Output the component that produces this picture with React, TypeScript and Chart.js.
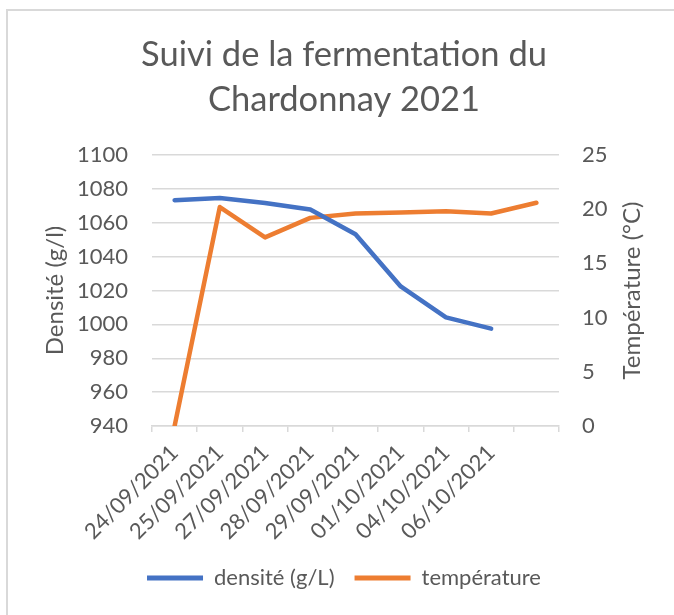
import React, { useEffect, useRef } from "react";
import { Chart, registerables } from "chart.js";

Chart.register(...registerables);

const titleLines = ["Suivi de la fermentation du", "Chardonnay 2021"];
const categories = [
  "24/09/2021",
  "25/09/2021",
  "27/09/2021",
  "28/09/2021",
  "29/09/2021",
  "01/10/2021",
  "04/10/2021",
  "06/10/2021",
  "",
];
const densite = [1073.3, 1074.6, 1071.7, 1067.8, 1053.2, 1022.4, 1004.1, 997.5, null];
const temperature = [0, 20.2, 17.4, 19.2, 19.6, 19.7, 19.8, 19.6, 20.6];
const densiteLabel = "densité (g/L)";
const temperatureLabel = "température";
const leftAxisTitle = "Densité (g/l)";
const rightAxisTitle = "Température (°C)";

const FONT = "Lato";
const TEXT = "#595959";
const GRID = "#d9d9d9";
const BLUE = "#4472C4";
const ORANGE = "#ED7D31";

const LAYOUT_LEFT = 14;
const PLOT_LEFT = 152;
const PLOT_RIGHT = 559;
const PLOT_BOTTOM = 426;
const LAYOUT_BOTTOM = 16;

const decorPlugin = {
  id: "decor",
  beforeDraw(chart: any) {
    const ctx = chart.ctx;
    ctx.save();
    ctx.fillStyle = "#ffffff";
    ctx.fillRect(0, 0, chart.width, chart.height);
    ctx.strokeStyle = GRID;
    ctx.lineWidth = 2;
    ctx.strokeRect(7, 10, chart.width + 20, chart.height + 20);
    ctx.restore();
  },
  afterDraw(chart: any) {
    const ctx = chart.ctx;
    const area = chart.chartArea;
    ctx.save();
    ctx.fillStyle = TEXT;
    ctx.font = `24px ${FONT}`;
    ctx.textAlign = "center";
    ctx.textBaseline = "middle";
    ctx.translate(632, (area.top + area.bottom) / 2);
    ctx.rotate(-Math.PI / 2);
    ctx.fillText(rightAxisTitle, 0, 0);
    ctx.restore();
  },
};

export default function App() {
  const ref = useRef<HTMLCanvasElement | null>(null);

  useEffect(() => {
    if (!ref.current) return;
    const chart = new Chart(ref.current, {
      type: "line",
      data: {
        labels: categories,
        datasets: [
          {
            label: densiteLabel,
            data: densite,
            borderColor: BLUE,
            backgroundColor: BLUE,
            borderWidth: 4.5,
            pointRadius: 0,
            borderCapStyle: "round",
            borderJoinStyle: "round",
            yAxisID: "y",
            spanGaps: false,
          },
          {
            label: temperatureLabel,
            data: temperature,
            borderColor: ORANGE,
            backgroundColor: ORANGE,
            borderWidth: 4.5,
            pointRadius: 0,
            borderCapStyle: "round",
            borderJoinStyle: "round",
            yAxisID: "y1",
          },
        ],
      },
      options: {
        responsive: false,
        animation: false,
        layout: { padding: { left: LAYOUT_LEFT, right: 0, top: 0, bottom: LAYOUT_BOTTOM } },
        plugins: {
          title: {
            display: true,
            text: titleLines,
            color: TEXT,
            font: { family: FONT, size: 34.5, weight: "normal", lineHeight: 1.3 },
            padding: { top: 32.5, bottom: 32.8 },
          },
          legend: {
            display: true,
            position: "bottom",
            labels: {
              color: TEXT,
              font: { family: FONT, size: 22 },
              boxWidth: 56,
              boxHeight: 5,
              padding: 20,
              generateLabels(chart: any) {
                return chart.data.datasets.map((ds: any, i: number) => ({
                  text: ds.label,
                  fillStyle: ds.borderColor,
                  strokeStyle: ds.borderColor,
                  lineWidth: 0,
                  fontColor: TEXT,
                  hidden: false,
                  datasetIndex: i,
                }));
              },
            },
          },
          tooltip: { enabled: false },
        },
        scales: {
          x: {
            type: "category",
            offset: true,
            grid: {
              offset: true,
              drawOnChartArea: false,
              drawTicks: true,
              tickLength: 6,
              color: GRID,
              lineWidth: 1.5,
            },
            border: { display: true, color: GRID, width: 1.5 },
            ticks: {
              color: TEXT,
              font: { family: FONT, size: 22 },
              minRotation: 45,
              maxRotation: 45,
              autoSkip: false,
              padding: 8,
            },
            afterFit(s: any) {
              s.height = s.chart.height - LAYOUT_BOTTOM - PLOT_BOTTOM - s.chart.legend.height;
            },
          },
          y: {
            position: "left",
            min: 940,
            max: 1100,
            ticks: {
              stepSize: 20,
              color: TEXT,
              font: { family: FONT, size: 22 },
              padding: 24,
              callback: (v: any) => String(v),
            },
            grid: { color: GRID, lineWidth: 1.5, drawTicks: false },
            border: { display: false },
            title: {
              display: true,
              text: leftAxisTitle,
              color: TEXT,
              font: { family: FONT, size: 24 },
              padding: { top: 41 - LAYOUT_LEFT, bottom: 0 },
            },
            afterFit(s: any) {
              s.width = PLOT_LEFT - LAYOUT_LEFT;
            },
          },
          y1: {
            position: "right",
            min: 0,
            max: 25,
            ticks: {
              stepSize: 5,
              color: TEXT,
              font: { family: FONT, size: 22 },
              padding: 23,
              callback: (v: any) => String(v),
            },
            grid: { drawOnChartArea: false, drawTicks: false },
            border: { display: false },
            afterFit(s: any) {
              s.width = s.chart.width - PLOT_RIGHT;
            },
          },
        },
      },
      plugins: [decorPlugin],
    } as any);
    return () => chart.destroy();
  }, []);

  return (
    <div style={{ position: "absolute", left: 0, top: 0, width: 674, height: 615 }}>
      <canvas ref={ref} width={674} height={615} style={{ display: "block" }} />
    </div>
  );
}
